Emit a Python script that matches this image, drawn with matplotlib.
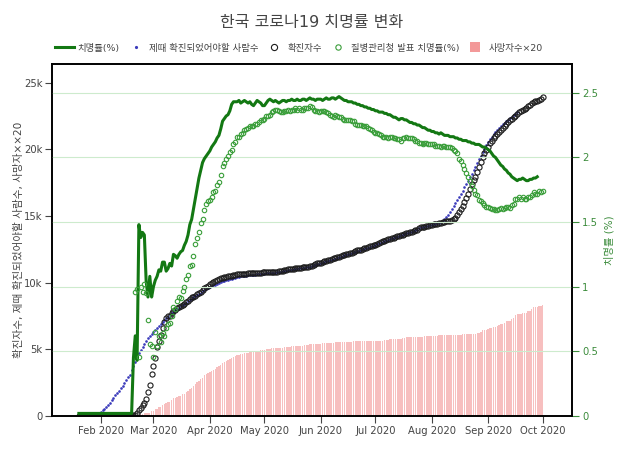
import matplotlib
matplotlib.use("Agg")
import matplotlib.pyplot as plt
import matplotlib.dates as mdates
from matplotlib.lines import Line2D
from matplotlib.ticker import FuncFormatter
import pandas as pd

plt.rcParams["font.family"] = ["DejaVu Sans", "Noto Sans CJK KR"]

# ---- data ----
# 확진자수 (cumulative confirmed), daily from 2020-01-20 to 2020-10-01
confirmed = [
    1, 1, 1, 1, 2, 2, 3, 4, 4, 4, 6, 11,
    12, 15, 15, 16, 19, 23, 24, 24, 25, 27, 28, 28, 28, 28, 28, 29, 30, 31, 51,
    104, 204, 433, 602, 833, 977, 1261, 1766, 2337, 3150,
    3736, 4335, 5186, 5621, 6088, 6593, 7041, 7313, 7478, 7513, 7755, 7869, 7979,
    8086, 8162, 8236, 8320, 8413, 8565, 8652, 8799, 8897, 8961, 9037, 9137, 9241,
    9332, 9478, 9583, 9661, 9786,
    9887, 9976, 10062, 10156, 10237, 10284, 10331, 10384, 10423, 10450, 10480,
    10512, 10537, 10564, 10591, 10613, 10635, 10653, 10661, 10674, 10683, 10694,
    10702, 10708, 10718, 10728, 10738, 10752, 10761, 10765,
    10774, 10780, 10793, 10801, 10804, 10806, 10810, 10822, 10840, 10874, 10909,
    10936, 10962, 10991, 11018, 11037, 11050, 11065, 11078, 11110, 11122, 11142,
    11165, 11190, 11206, 11225, 11265, 11344, 11402, 11441, 11468,
    11503, 11541, 11590, 11629, 11668, 11719, 11776, 11814, 11852, 11902, 11947,
    12003, 12051, 12085, 12121, 12155, 12198, 12257, 12306, 12373, 12421, 12438,
    12484, 12535, 12563, 12602, 12653, 12715, 12757, 12800,
    12850, 12904, 12967, 13030, 13091, 13137, 13181, 13244, 13293, 13338, 13373,
    13417, 13479, 13512, 13551, 13612, 13672, 13711, 13745, 13771, 13816, 13879,
    13938, 13979, 14092, 14150, 14175, 14203, 14251, 14269, 14305,
    14336, 14366, 14389, 14423, 14456, 14499, 14519, 14562, 14598, 14626, 14660,
    14714, 14770, 14873, 15039, 15318, 15515, 15761, 16058, 16346, 16670, 17002,
    17399, 17665, 17945, 18265, 18706, 19077, 19400, 19699, 19947,
    20182, 20449, 20644, 20842, 21010, 21177, 21296, 21432, 21588, 21743, 21919,
    22055, 22176, 22285, 22391, 22504, 22657, 22783, 22893, 22975, 23045, 23106,
    23216, 23341, 23455, 23516, 23611, 23661, 23699, 23812,
    23889,
]

# 사망자수 (cumulative deaths), daily from 2020-02-20 to 2020-10-01
deaths = [
    1, 2, 2, 6, 8, 10, 12, 13, 13, 17,
    17, 28, 28, 35, 35, 42, 44, 50, 53, 54, 60, 66, 66, 72, 75, 75, 81, 84, 91,
    94, 102, 104, 111, 120, 126, 131, 139, 144, 152, 158, 162,
    165, 169, 174, 177, 183, 186, 192, 200, 204, 208, 211, 214, 217, 222, 225,
    229, 230, 232, 234, 236, 237, 238, 240, 240, 240, 242, 243, 244, 246, 247,
    248, 250, 250, 252, 254, 255, 256, 256, 256, 256, 256, 258, 259, 260, 260,
    262, 262, 263, 263, 264, 264, 264, 266, 266, 267, 269, 269, 269, 269, 270, 270,
    271, 272, 273, 273, 273, 273, 273, 273, 276, 276, 276, 277, 277, 277, 277,
    278, 279, 279, 280, 280, 280, 280, 281, 281, 282, 282, 282, 282, 282, 282,
    282, 282, 283, 283, 283, 284, 285, 285, 287, 288, 288, 289, 289, 289, 289,
    293, 294, 296, 296, 296, 297, 297, 297, 298, 298, 298, 298, 299, 300, 300, 301,
    301, 301, 301, 301, 302, 302, 303, 304, 304, 304, 305, 305, 305, 305, 305,
    305, 305, 306, 306, 307, 309, 309, 309, 309, 309, 312, 313, 316, 321, 321, 324,
    326, 329, 331, 334, 335, 336, 341, 344, 346, 350, 355, 358, 358, 363, 367,
    377, 381, 384, 384, 388, 388, 388, 393, 395, 401, 407, 407, 408, 413, 413,
    415,
]
death_scale = 20

# 질병관리청 발표 치명률 (%), daily from 2020-02-20 to 2020-10-01
kdca_rate = [
    0.96, 0.98, 0.46, 1.00, 0.96, 1.02, 0.95, 0.74, 0.56, 0.54,
    0.46, 0.65, 0.54, 0.62, 0.57, 0.64, 0.62, 0.68, 0.71, 0.72, 0.77, 0.84, 0.83,
    0.89, 0.92, 0.91, 0.97, 1.00, 1.06, 1.09, 1.16, 1.17, 1.24, 1.33, 1.38, 1.42,
    1.49, 1.52, 1.59, 1.64, 1.66,
    1.67, 1.69, 1.73, 1.74, 1.79, 1.81, 1.86, 1.93, 1.96, 1.99, 2.01, 2.04, 2.06,
    2.10, 2.12, 2.16, 2.16, 2.18, 2.19, 2.21, 2.22, 2.23, 2.24, 2.24, 2.24, 2.26,
    2.26, 2.27, 2.29, 2.29,
    2.30, 2.32, 2.32, 2.33, 2.35, 2.36, 2.37, 2.37, 2.36, 2.35, 2.35, 2.36, 2.36,
    2.37, 2.36, 2.37, 2.37, 2.38, 2.37, 2.38, 2.37, 2.37, 2.38, 2.38, 2.38, 2.40,
    2.39, 2.37, 2.36, 2.36, 2.35,
    2.36, 2.36, 2.36, 2.35, 2.34, 2.33, 2.32, 2.31, 2.33, 2.32, 2.31, 2.31, 2.30,
    2.29, 2.29, 2.29, 2.29, 2.28, 2.28, 2.26, 2.25, 2.25, 2.25, 2.24, 2.24, 2.24,
    2.23, 2.22, 2.21, 2.20,
    2.19, 2.19, 2.18, 2.17, 2.16, 2.16, 2.16, 2.15, 2.16, 2.16, 2.15, 2.15, 2.14,
    2.14, 2.13, 2.15, 2.15, 2.16, 2.15, 2.15, 2.15, 2.14, 2.13, 2.13, 2.11, 2.11,
    2.10, 2.11, 2.11, 2.10, 2.10,
    2.10, 2.10, 2.09, 2.09, 2.09, 2.08, 2.09, 2.09, 2.08, 2.08, 2.08, 2.07, 2.06,
    2.05, 2.03, 1.99, 1.97, 1.94, 1.91, 1.88, 1.85, 1.82, 1.78, 1.75, 1.72, 1.71,
    1.67, 1.66, 1.65, 1.63, 1.62,
    1.62, 1.61, 1.60, 1.60, 1.59, 1.59, 1.60, 1.61, 1.60, 1.61, 1.62, 1.62, 1.61,
    1.63, 1.64, 1.68, 1.68, 1.69, 1.68, 1.69, 1.68, 1.68, 1.69, 1.69, 1.71, 1.73,
    1.72, 1.72, 1.74, 1.73,
    1.74,
]

# 치명률 (%) line, daily from 2020-01-20 to 2020-09-28
fatality = [
    0.02, 0.02, 0.02, 0.02, 0.02, 0.02, 0.02, 0.02, 0.02, 0.02, 0.02, 0.02,
    0.02, 0.02, 0.02, 0.02, 0.02, 0.02, 0.02, 0.02, 0.02, 0.02, 0.02, 0.02, 0.02,
    0.02, 0.02, 0.02, 0.02, 0.02, 0.45, 0.62, 0.43, 1.48, 1.38, 1.42, 1.40, 1.04,
    0.92, 1.08, 0.92,
    1.00, 1.05, 1.08, 1.13, 1.12, 1.19, 1.19, 1.12, 1.14, 1.18, 1.16, 1.25, 1.24,
    1.22, 1.25, 1.27, 1.28, 1.32, 1.35, 1.40, 1.48, 1.52, 1.60, 1.68, 1.76, 1.84,
    1.90, 1.96, 1.99, 2.01, 2.03,
    2.05, 2.08, 2.10, 2.12, 2.15, 2.17, 2.22, 2.28, 2.30, 2.32, 2.33, 2.36, 2.41,
    2.43, 2.43, 2.43, 2.44, 2.42, 2.43, 2.44, 2.43, 2.42, 2.43, 2.41, 2.40, 2.42,
    2.44, 2.43, 2.42, 2.40,
    2.40, 2.42, 2.44, 2.45, 2.44, 2.43, 2.44, 2.43, 2.42, 2.43, 2.44, 2.44, 2.43,
    2.44, 2.44, 2.45, 2.44, 2.44, 2.45, 2.44, 2.44, 2.45, 2.45, 2.44, 2.45, 2.46,
    2.45, 2.45, 2.44, 2.45, 2.45,
    2.45, 2.44, 2.45, 2.46, 2.45, 2.45, 2.46, 2.46, 2.45, 2.46, 2.47, 2.46, 2.45,
    2.44, 2.44, 2.43, 2.43, 2.43, 2.42, 2.42, 2.41, 2.41, 2.40, 2.40, 2.39, 2.39,
    2.38, 2.38, 2.37, 2.37,
    2.36, 2.36, 2.35, 2.35, 2.35, 2.34, 2.34, 2.33, 2.33, 2.32, 2.31, 2.31, 2.30,
    2.29, 2.30, 2.30, 2.29, 2.29, 2.28, 2.27, 2.27, 2.26, 2.26, 2.25, 2.25, 2.24,
    2.23, 2.23, 2.22, 2.21, 2.21,
    2.20, 2.20, 2.19, 2.19, 2.18, 2.19, 2.18, 2.17, 2.17, 2.17, 2.16, 2.16, 2.16,
    2.15, 2.15, 2.14, 2.14, 2.13, 2.13, 2.13, 2.12, 2.12, 2.11, 2.11, 2.10, 2.10,
    2.10, 2.09, 2.08, 2.08, 2.07,
    2.06, 2.05, 2.03, 2.01, 2.00, 1.98, 1.96, 1.94, 1.93, 1.91, 1.90, 1.88, 1.87,
    1.85, 1.84, 1.83, 1.82, 1.83, 1.83, 1.84, 1.83, 1.82, 1.82, 1.83, 1.83, 1.84,
    1.84, 1.85,
]

# 제때 확진되었어야할 사람수, daily from 2020-01-20 to 2020-09-17
expected = [
    0, 0, 0, 10, 20, 30, 50, 70, 100, 140, 190, 240,
    300, 430, 560, 700, 850, 1000, 1180, 1360, 1540, 1720, 1900, 2090, 2280, 2480,
    2680, 2890, 3100, 3420, 3750, 4080, 4420, 4750, 4980, 5200, 5420, 5620, 5820,
    6000, 6170,
    6330, 6480, 6620, 6760, 6900, 7040, 7180, 7320, 7450, 7580, 7700, 7820, 7930,
    8030, 8130, 8220, 8310, 8400, 8500, 8600, 8700, 8800, 8890, 8980, 9070, 9160,
    9250, 9340, 9420, 9500, 9580,
    9650, 9720, 9790, 9860, 9920, 9980, 10040, 10090, 10140, 10190, 10230, 10270,
    10310, 10350, 10380, 10410, 10440, 10470, 10490, 10510, 10530, 10550, 10570,
    10590, 10600, 10610, 10620, 10640, 10650, 10660,
    10680, 10690, 10710, 10720, 10730, 10740, 10750, 10770, 10790, 10820, 10850,
    10880, 10910, 10940, 10960, 10980, 11000, 11020, 11040, 11070, 11090, 11110,
    11130, 11150, 11170, 11190, 11230, 11300, 11350, 11390, 11420,
    11460, 11500, 11550, 11590, 11630, 11680, 11730, 11770, 11810, 11860, 11910,
    11960, 12010, 12050, 12090, 12130, 12170, 12220, 12270, 12330, 12380, 12410,
    12450, 12500, 12540, 12580, 12630, 12690, 12730, 12780,
    12830, 12880, 12940, 13000, 13060, 13110, 13160, 13220, 13270, 13320, 13360,
    13400, 13460, 13500, 13540, 13600, 13660, 13700, 13740, 13770, 13810, 13870,
    13930, 13980, 14080, 14140, 14170, 14200, 14250, 14280, 14320,
    14360, 14400, 14430, 14470, 14510, 14570, 14640, 14750, 14900, 15080, 15280,
    15500, 15720, 15950, 16180, 16420, 16660, 16900, 17150, 17400, 17650, 17900,
    18150, 18420, 18700, 18980, 19250, 19530, 19800, 20060, 20310,
    20530, 20740, 20940, 21120, 21290, 21450, 21600, 21740, 21870, 22000, 22120,
    22230, 22340, 22450, 22560, 22680, 22800,
]

left_ticks = [0, 5000, 10000, 15000, 20000, 25000]
right_ticks = [0, 0.5, 1, 1.5, 2, 2.5]

DARK_GREEN = "#137813"
LIGHT_GREEN = "#3a9e3a"
AXIS_GREEN = "#3c8c3c"
GRAY = "#444444"
BAR_COLOR = "lightcoral"

d_conf = pd.date_range("2020-01-20", periods=len(confirmed), freq="D")
d_death = pd.date_range("2020-02-20", periods=len(deaths), freq="D")
d_kdca = pd.date_range("2020-02-20", periods=len(kdca_rate), freq="D")
d_fat = pd.date_range("2020-01-20", periods=len(fatality), freq="D")
d_exp = pd.date_range("2020-01-20", periods=len(expected), freq="D")

fig = plt.figure(figsize=(6.24, 4.68), dpi=100)
ax = fig.add_axes([52 / 624, 52 / 468, 520.3 / 624, 352 / 468])
ax2 = ax.twinx()

bars = ax.bar(d_death, [v * death_scale for v in deaths], width=0.75,
              color=BAR_COLOR, alpha=0.5, linewidth=0, zorder=1)
exp_line, = ax.plot(d_exp, expected, linestyle="none", marker="o", ms=1.9,
                    color="#3b3bbb", mew=0, zorder=2)
conf_line, = ax.plot(d_conf, confirmed, linestyle="none", marker="o", ms=3.7,
                     mfc="none", mec="#1c1c1c", mew=0.8, zorder=3)

ax2.grid(axis="y", color="#cdebcd", linewidth=0.8)
ax2.set_axisbelow(True)
fat_line, = ax2.plot(d_fat, fatality, color=DARK_GREEN, linewidth=2.2, zorder=3)
kdca_line, = ax2.plot(d_kdca, kdca_rate, linestyle="none", marker="o", ms=3.2,
                      mfc="none", mec=LIGHT_GREEN, mew=0.8, zorder=4)

ax.set_xlim(pd.Timestamp("2020-01-05 05:30"), pd.Timestamp("2020-10-17 06:30"))
ax.set_ylim(0, 26400)
ax2.set_ylim(0, 2.722)

ax.xaxis.set_major_locator(mdates.MonthLocator())
ax.xaxis.set_major_formatter(mdates.DateFormatter("%b %Y"))
ax.set_yticks(left_ticks)
ax.yaxis.set_major_formatter(FuncFormatter(lambda v, p: "0" if v == 0 else f"{int(v / 1000)}k"))
ax2.set_yticks(right_ticks)
ax2.yaxis.set_major_formatter(FuncFormatter(lambda v, p: f"{v:g}"))

ax.tick_params(axis="both", length=5, width=0.8, color=GRAY, labelcolor=GRAY,
               labelsize=7.2, pad=2)
ax2.tick_params(axis="y", length=5, width=0.8, color=AXIS_GREEN,
                labelcolor=AXIS_GREEN, labelsize=7.2, pad=2)

for a in (ax, ax2):
    for s in a.spines.values():
        s.set_linewidth(1.2)
        s.set_color("black")

ax.set_ylabel("확진자수, 제때 확진되었어야할 사람수, 사망자××20",
              fontsize=7.6, color=GRAY, labelpad=0)
ax2.set_ylabel("치명률 (%)", fontsize=7.4, color=AXIS_GREEN, labelpad=4)

fig.text(0.5, 1 - 22 / 468, "한국 코로나19 치명률 변화", ha="center", va="center",
         fontsize=11.5, color=GRAY)

bar_proxy = Line2D([], [], linestyle="none", marker="s", ms=6.5,
                   color=BAR_COLOR, alpha=0.8, mew=0)
handles = [fat_line, exp_line, conf_line, kdca_line, bar_proxy]
labels = ["치명률(%)", "제때 확진되었어야할 사람수", "확진자수",
          "질병관리청 발표 치명률(%)", "사망자수×20"]
fig.legend(handles, labels, loc="center left",
           bbox_to_anchor=(55 / 624, 1 - 48 / 468), ncol=5, frameon=False,
           fontsize=6.75, handlelength=2.0, handletextpad=0.4,
           columnspacing=0.7, borderpad=0, borderaxespad=0, markerscale=1.2,
           labelcolor=GRAY)

fig.savefig("out.png", dpi=100)
